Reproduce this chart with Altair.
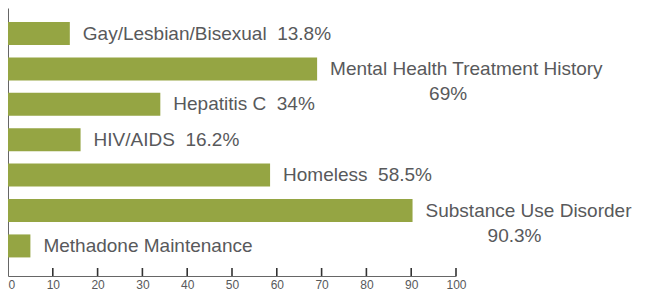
import altair as alt
import pandas as pd

categories = [
    "Gay/Lesbian/Bisexual",
    "Mental Health Treatment History",
    "Hepatitis C",
    "HIV/AIDS",
    "Homeless",
    "Substance Use Disorder",
    "Methadone Maintenance",
]
values = [13.8, 69, 34, 16.2, 58.5, 90.3, 5.0]
pct_labels = ["13.8%", "69%", "34%", "16.2%", "58.5%", "90.3%", ""]
two_line = [False, True, False, False, False, True, False]
tick_values = [0, 10, 20, 30, 40, 50, 60, 70, 80, 90, 100]

NB = "\u00a0\u00a0"
line1 = []
line2 = []
for c, p, t in zip(categories, pct_labels, two_line):
    if t:
        line1.append(c)
        line2.append(p)
    else:
        line1.append(c + (NB + p if p else ""))
        line2.append("")

df = pd.DataFrame({
    "cat": categories,
    "value": values,
    "line1": line1,
    "line2": line2,
})
ticks_df = pd.DataFrame({"t": tick_values[1:]})

W, H = 448, 268
BAR = "#95a543"
TXT = "#58595b"
FONT = "Liberation Sans"

x_scale = alt.Scale(domain=[0, 100], nice=False, zero=True)
y_scale = alt.Scale(domain=categories, paddingInner=0.35, paddingOuter=0.46, align=0.43)

base = alt.Chart(df).encode(
    y=alt.Y("cat:N", scale=y_scale, sort=categories,
            axis=alt.Axis(title=None, labels=False, ticks=False, domain=True,
                          domainColor="#666666", domainWidth=1)),
)

bars = base.mark_bar(color=BAR, size=23).encode(
    x=alt.X("value:Q", scale=x_scale,
            axis=alt.Axis(title=None, values=tick_values, ticks=False, grid=False,
                          domainColor="#666666", domainWidth=1,
                          labelFont=FONT, labelFontSize=12, labelColor=TXT,
                          labelPadding=3, labelBaseline="top",
                          labelAlign=alt.expr("datum.value === 0 ? 'left' : 'center'"))),
)

line1_text = base.mark_text(
    align="left", baseline="middle", dx=13, font=FONT, fontSize=19, color=TXT
).encode(x=alt.X("value:Q", scale=x_scale), text="line1:N")

text_mh = base.transform_filter(alt.datum.cat == "Mental Health Treatment History").mark_text(
    align="center", baseline="middle", dx=131, dy=25, font=FONT, fontSize=19, color=TXT
).encode(x=alt.X("value:Q", scale=x_scale), text="line2:N")

text_sud = base.transform_filter(alt.datum.cat == "Substance Use Disorder").mark_text(
    align="center", baseline="middle", dx=102, dy=25, font=FONT, fontSize=19, color=TXT
).encode(x=alt.X("value:Q", scale=x_scale), text="line2:N")

tick_marks = alt.Chart(ticks_df).mark_rule(color="#333333", strokeWidth=1.6).encode(
    x=alt.X("t:Q", scale=x_scale),
    y=alt.value(H - 8),
    y2=alt.value(H),
)

chart = alt.layer(bars, line1_text, text_mh, text_sud, tick_marks).properties(
    width=W, height=H,
    autosize=alt.AutoSizeParams(type="none"),
    padding={"left": 0, "top": 0, "right": 185, "bottom": 18},
    background="white",
).configure_view(strokeWidth=0, stroke="transparent")

chart.save("out.html", embed_options={"renderer": "svg", "actions": False})
